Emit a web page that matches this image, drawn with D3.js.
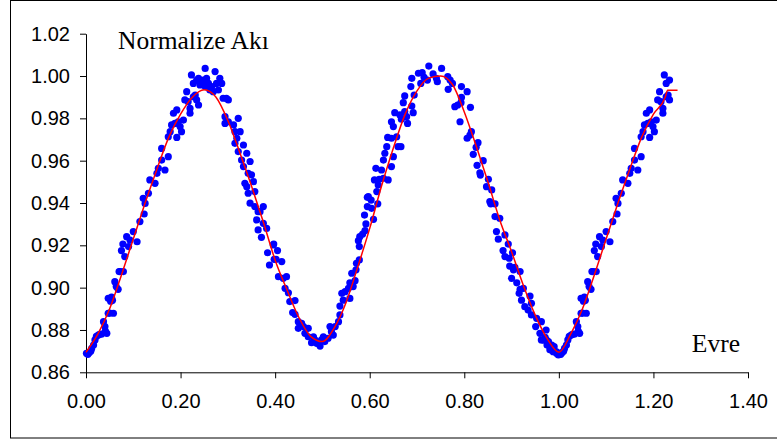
<!DOCTYPE html>
<html>
<head>
  <meta charset="utf-8" />
  <title>Normalize Akı - Evre</title>
  <script src="https://d3js.org/d3.v7.min.js"></script>
  <style>
    body { margin: 0; background: #fff; }
    svg { display: block; }
    .tick text { font-family: Arial, "Liberation Sans", sans-serif; font-size: 20px; fill: #000; }
    .tick line, .domain { stroke: #000; }
    .lbl { font-family: "Times New Roman", "Liberation Serif", serif; font-size: 25.5px; fill: #000; }
  </style>
</head>
<body>
  <svg id="chart" width="777" height="443"></svg>
  <script>
    // tick labels
    var xTicks = [0, 0.2, 0.4, 0.6, 0.8, 1.0, 1.2, 1.4];
    var yTicks = [0.86, 0.88, 0.90, 0.92, 0.94, 0.96, 0.98, 1.00, 1.02];

    // observed points, phase 0 - 1 [evre, normalize akı]
    var cycleOne = [
      [0.001,0.8690],[0.004,0.8685],[0.007,0.8693],[0.010,0.8700],[0.012,0.8713],[0.016,0.8729],
      [0.019,0.8753],[0.022,0.8770],[0.026,0.8776],[0.029,0.8779],[0.033,0.8781],[0.037,0.8839],
      [0.040,0.8816],[0.041,0.8795],[0.044,0.8784],[0.047,0.8879],[0.047,0.8950],[0.050,0.8880],
      [0.052,0.8936],[0.054,0.8955],[0.056,0.8940],[0.058,0.8879],[0.061,0.9028],[0.064,0.9005],
      [0.068,0.8992],[0.070,0.9076],[0.072,0.9076],[0.075,0.9175],[0.078,0.9206],[0.079,0.9076],
      [0.082,0.9147],[0.086,0.9241],[0.090,0.9194],[0.093,0.9225],[0.100,0.9265],[0.108,0.9217],
      [0.114,0.9312],[0.121,0.9422],[0.123,0.9348],[0.125,0.9398],[0.132,0.9446],[0.135,0.9509],
      [0.146,0.9493],[0.150,0.9540],[0.153,0.9564],[0.160,0.9603],[0.160,0.9658],[0.167,0.9556],
      [0.174,0.9619],[0.174,0.9713],[0.178,0.9737],[0.181,0.9769],[0.185,0.9824],[0.188,0.9776],
      [0.192,0.9710],[0.192,0.9840],[0.195,0.9784],[0.199,0.9761],[0.202,0.9737],[0.206,0.9792],
      [0.209,0.9887],[0.213,0.9926],[0.216,0.9879],[0.220,0.9824],[0.220,0.9847],[0.223,1.0005],
      [0.227,0.9902],[0.227,0.9965],[0.231,0.9910],[0.234,0.9887],[0.234,0.9981],
      [0.238,0.9863],[0.238,0.9989],[0.241,0.9958],[0.245,0.9965],[0.248,0.9981],[0.252,1.0036],
      [0.252,0.9950],[0.255,0.9989],[0.259,0.9965],[0.262,0.9934],[0.266,0.9950],[0.269,0.9926],
      [0.273,1.0021],[0.276,0.9965],[0.280,0.9934],[0.283,0.9989],[0.287,0.9965],[0.290,0.9895],
      [0.297,0.9895],[0.301,0.9887],[0.294,0.9808],[0.294,0.9776],[0.301,0.9784],[0.312,0.9769],
      [0.322,0.9800],[0.315,0.9737],[0.326,0.9737],[0.319,0.9706],[0.315,0.9682],[0.322,0.9643],
      [0.333,0.9674],[0.340,0.9635],[0.329,0.9603],[0.333,0.9572],[0.347,0.9596],[0.343,0.9540],
      [0.350,0.9533],[0.336,0.9493],[0.340,0.9477],[0.343,0.9446],[0.354,0.9501],[0.357,0.9454],
      [0.347,0.9399],[0.357,0.9383],[0.368,0.9359],[0.375,0.9383],[0.364,0.9359],[0.361,0.9320],
      [0.375,0.9304],[0.364,0.9273],[0.382,0.9280],[0.371,0.9238],[0.396,0.9202],[0.384,0.9165],
      [0.388,0.9107],[0.398,0.9134],
      [0.397,0.9206],[0.405,0.9175],[0.402,0.9134],[0.414,0.9123],[0.407,0.9052],[0.417,0.9044],
      [0.424,0.9052],[0.421,0.8997],[0.428,0.8976],[0.431,0.8934],[0.442,0.8939],[0.437,0.8882],
      [0.442,0.8874],[0.449,0.8839],[0.456,0.8831],[0.449,0.8808],[0.460,0.8816],[0.470,0.8808],
      [0.463,0.8784],[0.470,0.8768],[0.481,0.8768],[0.477,0.8740],[0.484,0.8753],[0.488,0.8737],
      [0.495,0.8724],[0.498,0.8753],[0.502,0.8768],[0.505,0.8745],[0.512,0.8761],[0.516,0.8816],
      [0.523,0.8776],[0.519,0.8792],[0.527,0.8816],[0.534,0.8839],[0.537,0.8871],[0.537,0.8913],
      [0.544,0.8941],[0.541,0.8973],[0.548,0.8981],[0.558,0.8949],[0.555,0.8997],[0.558,0.9023],
      [0.565,0.9005],[0.562,0.9068],[0.569,0.9033],[0.572,0.9115],[0.578,0.9131],[0.571,0.9084],
      [0.576,0.9222],[0.579,0.9241],[0.585,0.9253],[0.590,0.9269],[0.578,0.9194],[0.592,0.9301],
      [0.589,0.9343],[0.595,0.9383],[0.595,0.9427],
      [0.597,0.9430],[0.604,0.9375],[0.608,0.9323],[0.617,0.9396],[0.603,0.9414],[0.615,0.9454],
      [0.610,0.9509],[0.620,0.9512],[0.618,0.9485],[0.629,0.9517],[0.639,0.9509],[0.625,0.9556],
      [0.613,0.9564],[0.646,0.9572],[0.629,0.9603],[0.632,0.9635],[0.636,0.9666],[0.650,0.9619],
      [0.638,0.9710],[0.646,0.9706],[0.657,0.9713],[0.660,0.9666],[0.666,0.9666],[0.650,0.9761],
      [0.646,0.9784],[0.653,0.9827],[0.664,0.9816],[0.667,0.9796],[0.674,0.9832],[0.678,0.9808],
      [0.680,0.9776],[0.671,0.9874],[0.674,0.9906],[0.689,0.9858],[0.692,0.9827],[0.694,0.9910],
      [0.687,0.9950],[0.689,0.9989],[0.703,1.0013],[0.711,1.0016],[0.715,0.9994],[0.708,0.9965],
      [0.722,0.9981],[0.725,1.0047],[0.734,1.0010],[0.741,0.9989],[0.752,1.0036],[0.743,0.9973],
      [0.765,0.9997],[0.770,0.9981],[0.775,0.9965],[0.766,0.9937],[0.780,0.9855],[0.786,0.9863],
      [0.794,0.9899],[0.793,0.9874],[0.791,0.9784],
      [0.794,0.9950],[0.806,0.9926],[0.813,0.9852],[0.815,0.9737],[0.812,0.9721],[0.806,0.9706],
      [0.829,0.9685],[0.825,0.9663],[0.819,0.9630],[0.840,0.9600],[0.827,0.9578],[0.833,0.9543],
      [0.834,0.9532],[0.851,0.9512],[0.847,0.9477],[0.858,0.9462],[0.854,0.9407],[0.865,0.9396],
      [0.856,0.9396],[0.865,0.9336],[0.875,0.9328],[0.868,0.9265],[0.872,0.9229],[0.886,0.9249],
      [0.893,0.9206],[0.882,0.9175],[0.902,0.9165],[0.886,0.9147],[0.895,0.9139],[0.896,0.9102],
      [0.907,0.9096],[0.904,0.9084],[0.918,0.9076],[0.900,0.9044],[0.911,0.9023],[0.918,0.8992],
      [0.925,0.8997],[0.916,0.8973],[0.921,0.8941],[0.939,0.8960],[0.928,0.8910],[0.942,0.8926],
      [0.935,0.8894],[0.942,0.8871],[0.953,0.8855],[0.963,0.8839],[0.951,0.8816],[0.960,0.8784],
      [0.973,0.8800],[0.963,0.8753],[0.971,0.8765],[0.978,0.8745],[0.975,0.8729],[0.985,0.8729],
      [0.990,0.8721],[0.981,0.8706],[0.992,0.8698],[0.995,0.8690],[0.974,0.8752],[0.967,0.8752],
      [0.981,0.8721],[0.988,0.8697],[0.995,0.8697],[0.999,0.8682]
    ];

    // the same points plotted again after phase 1.00 (as in the source chart)
    var cycleTwo = [
      [1.001,0.8690],[1.004,0.8685],[1.007,0.8693],[1.010,0.8700],[1.012,0.8713],[1.016,0.8729],
      [1.019,0.8753],[1.022,0.8770],[1.026,0.8776],[1.029,0.8779],[1.033,0.8781],[1.037,0.8839],
      [1.040,0.8816],[1.041,0.8795],[1.044,0.8784],[1.047,0.8879],[1.047,0.8950],[1.050,0.8880],
      [1.052,0.8936],[1.054,0.8955],[1.056,0.8940],[1.058,0.8879],[1.061,0.9028],[1.064,0.9005],
      [1.068,0.8992],[1.070,0.9076],[1.072,0.9076],[1.075,0.9175],[1.078,0.9206],[1.079,0.9076],
      [1.082,0.9147],[1.086,0.9241],[1.090,0.9194],[1.093,0.9225],[1.100,0.9265],[1.108,0.9217],
      [1.114,0.9312],[1.121,0.9422],[1.123,0.9348],[1.125,0.9398],[1.132,0.9446],[1.135,0.9509],
      [1.146,0.9493],[1.150,0.9540],[1.153,0.9564],[1.160,0.9603],[1.160,0.9658],[1.167,0.9556],
      [1.174,0.9619],[1.174,0.9713],[1.178,0.9737],[1.181,0.9769],[1.185,0.9824],[1.188,0.9776],
      [1.192,0.9710],[1.192,0.9840],[1.195,0.9784],[1.199,0.9761],[1.202,0.9737],[1.206,0.9792],
      [1.209,0.9887],[1.213,0.9926],[1.216,0.9879],[1.220,0.9824],[1.220,0.9847],[1.223,1.0005],
      [1.227,0.9902],[1.227,0.9965],[1.231,0.9910],[1.234,0.9887],[1.234,0.9981]
    ];

    // red fit curve read at steps of 0.025
    var fitCurve = [
      [0.000,0.8695],[0.025,0.878],[0.050,0.890],[0.075,0.906],[0.100,0.923],[0.125,0.940],
      [0.150,0.956],[0.175,0.971],[0.200,0.982],[0.225,0.990],[0.250,0.9935],[0.275,0.990],
      [0.300,0.979],[0.325,0.964],[0.350,0.948],[0.375,0.931],[0.400,0.913],[0.425,0.899],
      [0.450,0.886],[0.475,0.877],[0.500,0.8745],[0.525,0.881],[0.550,0.893],[0.575,0.910],
      [0.600,0.928],[0.625,0.948],[0.650,0.966],[0.675,0.982],[0.700,0.993],[0.725,0.999],
      [0.750,1.000],[0.775,0.996],[0.800,0.983],[0.825,0.967],[0.850,0.950],[0.875,0.932],
      [0.900,0.917],[0.925,0.901],[0.950,0.887],[0.975,0.876],[1.000,0.8695],[1.025,0.878],
      [1.050,0.890],[1.075,0.906],[1.100,0.923],[1.125,0.940],[1.150,0.956],[1.175,0.971],
      [1.200,0.982],[1.225,0.990],[1.230,0.9933],[1.251,0.9933]
    ];

    var svg = d3.select("#chart");

    // outer frame
    svg.append("rect")
      .attr("x", 10.5).attr("y", 0.5)
      .attr("width", 780).attr("height", 437.5)
      .attr("fill", "none").attr("stroke", "#000").attr("stroke-width", 1);

    var x = d3.scaleLinear().domain([0, 1.4]).range([86, 748]);
    var y = d3.scaleLinear().domain([0.86, 1.02]).range([372.3, 33.7]);

    // axes
    svg.append("g")
      .attr("transform", "translate(86,0)")
      .call(d3.axisLeft(y).tickValues(yTicks).tickFormat(d3.format(".2f"))
        .tickSize(6).tickSizeOuter(0).tickPadding(10));

    svg.append("g")
      .attr("transform", "translate(0,372.3)")
      .call(d3.axisBottom(x).tickValues(xTicks).tickFormat(d3.format(".2f"))
        .tickSize(6).tickSizeOuter(0).tickPadding(16));

    // points
    var all = cycleOne.concat(cycleTwo);
    svg.append("g").selectAll("circle")
      .data(all)
      .enter().append("circle")
      .attr("cx", function (d) { return x(d[0]); })
      .attr("cy", function (d) { return y(d[1]); })
      .attr("r", 3.6)
      .attr("fill", "#0000ff");

    // fit line on top
    var line = d3.line()
      .x(function (d) { return x(d[0]); })
      .y(function (d) { return y(d[1]); })
      .curve(d3.curveMonotoneX);

    svg.append("path")
      .datum(fitCurve)
      .attr("d", line)
      .attr("fill", "none")
      .attr("stroke", "#ff0000")
      .attr("stroke-width", 1.5);

    // axis titles
    svg.append("text").attr("class", "lbl")
      .attr("x", 118).attr("y", 48.5)
      .text("Normalize Akı");

    svg.append("text").attr("class", "lbl")
      .attr("x", 740).attr("y", 352)
      .attr("text-anchor", "end")
      .text("Evre");
  </script>
</body>
</html>
